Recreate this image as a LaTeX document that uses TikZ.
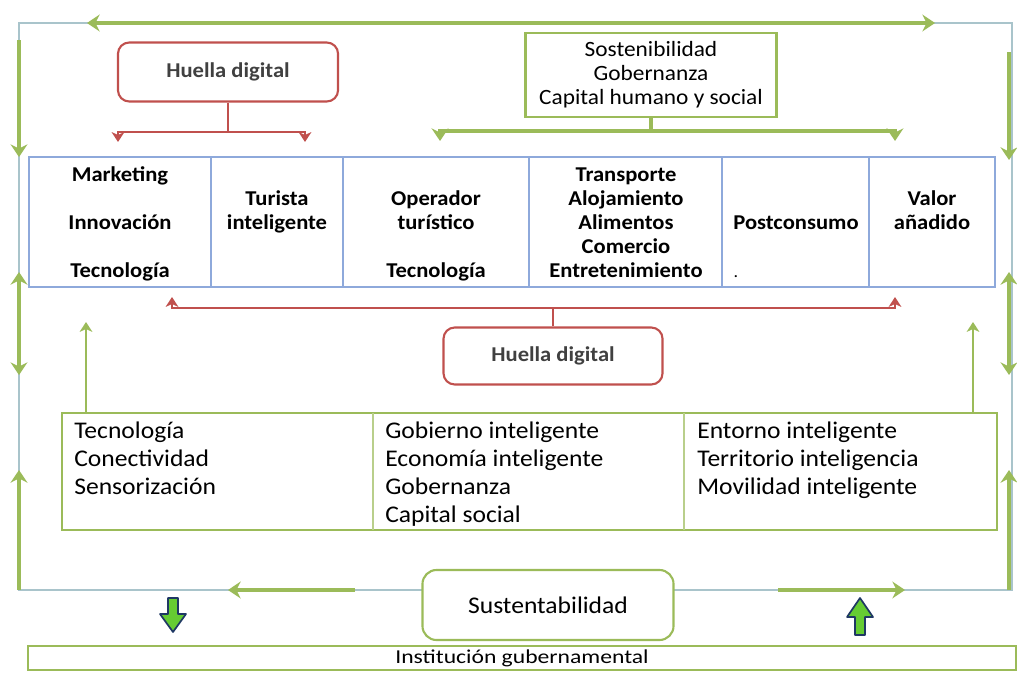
\documentclass[tikz,border=0pt]{standalone}
\usepackage{fontspec}
\setmainfont{Carlito}[FakeStretch=1.07]
\newfontfamily\ancha{Carlito}[FakeStretch=1.2]
\usetikzlibrary{arrows.meta}
\definecolor{verdeoli}{HTML}{9BBB59}
\definecolor{rojoapag}{HTML}{C0504D}
\definecolor{azultabla}{HTML}{8EA9DB}
\definecolor{marcogris}{HTML}{A9C4CB}
\definecolor{verdevivo}{HTML}{66CC33}
\definecolor{azulnoche}{HTML}{1F3864}
\tikzset{
	verde/.style={draw=verdeoli, line width=2.6pt},
	flecha/.style={verde, -{Stealth[length=9pt,width=12pt,inset=3pt]}},
	dobleflecha/.style={verde, {Stealth[length=9pt,width=12pt,inset=3pt]}-{Stealth[length=9pt,width=12pt,inset=3pt]}},
	rojo/.style={draw=rojoapag, line width=1.8pt},
	huella/.style={draw=rojoapag, line width=1.5pt, rounded corners=8pt, fill=white,
		font=\bfseries\fontsize{15}{17}\selectfont, text=black!75},
	caja/.style={draw=verdeoli, line width=1.5pt, fill=white, align=center},
	negrita/.style={font=\bfseries\fontsize{15}{17}\selectfont, anchor=base, inner sep=0pt},
	linea/.style={font=\fontsize{17}{20}\selectfont, anchor=base west, inner sep=0pt},
	bloque/.style={draw=azulnoche, fill=verdevivo, line width=1.2pt, line join=round}
}
\begin{document}
\begin{tikzpicture}[x=0.025cm, y=-0.025cm]
\useasboundingbox (0,0) rectangle (1017,677);

% marco exterior
\draw[marcogris, line width=1pt] (19,23) rectangle (1012,590);
\draw[dobleflecha] (87,23) -- (935,23);
\draw[flecha] (19,40) -- (19,157);
\draw[dobleflecha] (19,272) -- (19,375);
\draw[flecha] (19,590) -- (19,470);
\draw[flecha] (1009,52) -- (1009,160);
\draw[dobleflecha] (1009,272) -- (1009,375);
\draw[flecha] (1009,590) -- (1009,470);

% cajas de arriba
\node[huella, minimum width=5.5cm, minimum height=1.475cm] (huellaA) at (228,72) {Huella digital};
\node[caja, font=\fontsize{15.5}{17}\selectfont, minimum width=6.275cm, minimum height=2.1cm] (sosten) at (651,75)
	{Sostenibilidad\\Gobernanza\\Capital humano y social};

\coordinate (hA1) at (118,142);
\coordinate (hA2) at (305,142);
\draw[rojo] (huellaA.south) -- (huellaA.south |- 0,132);
\draw[rojo, {Stealth[length=7pt,width=9pt,inset=2pt]}-{Stealth[length=7pt,width=9pt,inset=2pt]}]
	(hA1) -- (118,132) -- (305,132) -- (hA2);

\coordinate (sA1) at (440,141);
\coordinate (sA2) at (895,141);
\draw[verde] (sosten.south) -- (sosten.south |- 0,131);
\draw[dobleflecha] (sA1) -- (440,131) -- (895,131) -- (sA2);

% tabla del turismo
\draw[azultabla, line width=1.3pt] (29,157) rectangle (995,287);
\foreach \x in {211,343,529,722,869}
	\draw[azultabla, line width=1.3pt] (\x,157) -- (\x,287);
\foreach \x/\k/\t in {120/1/Marketing, 120/3/Innovación, 120/5/Tecnología,
		277/2/Turista, 277/3/inteligente,
		436/2/Operador, 436/3/turístico, 436/5/Tecnología,
		626/1/Transporte, 626/2/Alojamiento, 626/3/Alimentos, 626/4/Comercio, 626/5/Entretenimiento,
		796/3/Postconsumo, 932/2/Valor, 932/3/añadido}
	\node[negrita] (c-\x-\k) at (\x,157+24*\k) {\t};
\node[negrita, font=\fontsize{12}{14}\selectfont] (punto) at (736,277) {.};

% huella de abajo
\node[huella, minimum width=5.475cm, minimum height=1.425cm] (huellaB) at (553,356) {Huella digital};
\coordinate (hB1) at (172,297);
\coordinate (hB2) at (895,297);
\draw[rojo] (huellaB.north) -- (huellaB.north |- 0,308);
\draw[rojo, {Stealth[length=7pt,width=9pt,inset=2pt]}-{Stealth[length=7pt,width=9pt,inset=2pt]}]
	(hB1) -- (172,308) -- (895,308) -- (hB2);

% tabla de la ciudad
\draw[verdeoli, line width=1.3pt] (62,413) rectangle (997,530);
\foreach \x in {373,684}
	\draw[verdeoli!70, line width=1pt] (\x,413) -- (\x,530);
\coordinate (tA) at (86,413);
\coordinate (tB) at (973,413);
\draw[verde, line width=2pt, -{Stealth[length=7pt,width=9pt,inset=2pt]}] (tA) -- (86,322);
\draw[verde, line width=2pt, -{Stealth[length=7pt,width=9pt,inset=2pt]}] (tB) -- (973,322);
\foreach \t [count=\i] in {Tecnología, Conectividad, Sensorización}
	\node[linea] (izq\i) at (74,410+28*\i) {\t};
\foreach \t [count=\i] in {Gobierno inteligente, Economía inteligente, Gobernanza, Capital social}
	\node[linea] (cen\i) at (385,410+28*\i) {\t};
\foreach \t [count=\i] in {Entorno inteligente, Territorio inteligencia, Movilidad inteligente}
	\node[linea] (der\i) at (697,410+28*\i) {\t};

% parte de abajo
\node[caja, rounded corners=10pt, font=\fontsize{17}{19}\selectfont, minimum width=6.275cm, minimum height=1.75cm] (susten) at (548,605) {Sustentabilidad};
\coordinate (bI0) at (355,590);
\coordinate (bI) at (228,590);
\coordinate (bD0) at (778,590);
\coordinate (bD) at (905,590);
\draw[flecha] (bI0) -- (bI);
\draw[flecha] (bD0) -- (bD);
\draw[bloque] (168,598) -- (178,598) -- (178,614) -- (186,614) -- (173,632) -- (160,614) -- (168,614) -- cycle;
\draw[bloque] (855,635) -- (865,635) -- (865,617) -- (873,617) -- (860,598) -- (847,617) -- (855,617) -- cycle;
\node[draw=verdeoli, line width=1.5pt, minimum width=24.675cm, minimum height=0.6cm, inner sep=0pt,
	font=\ancha\fontsize{14}{16}\selectfont] (instit) at (522,658) {Institución gubernamental};
\end{tikzpicture}
\end{document}
